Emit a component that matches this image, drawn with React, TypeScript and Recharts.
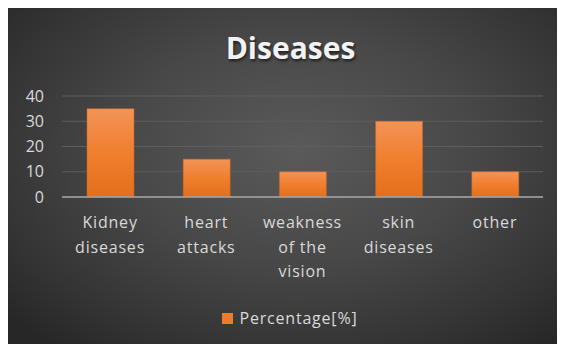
import React from "react";
import { BarChart, Bar, XAxis, YAxis, CartesianGrid, Legend } from "recharts";

const categories = ["Kidney diseases", "heart attacks", "weakness of the vision", "skin diseases", "other"];
const tickLines = [["Kidney", "diseases"], ["heart", "attacks"], ["weakness", "of the", "vision"], ["skin", "diseases"], ["other"]];
const percentage = [35, 15, 10, 30, 10];
const yTicks = [0, 10, 20, 30, 40];

const data = categories.map((name, i) => ({ name, value: percentage[i] }));

const FONT = "'Open Sans', 'Noto Sans', sans-serif";
const LABEL = "#d9d9d9";

function CategoryTick(props: any) {
  const { x, y, index } = props;
  const lines: string[] = tickLines[index] || [];
  return (
    <text x={x} y={y} textAnchor="middle" fill={LABEL} fontSize={16} fontFamily={FONT} letterSpacing={0.8} dominantBaseline="central">
      {lines.map((l, i) => (
        <tspan key={i} x={x} dy={i === 0 ? 25 : 24.5}>
          {l}
        </tspan>
      ))}
    </text>
  );
}

function LegendContent() {
  return (
    <div style={{ display: "flex", justifyContent: "center", alignItems: "center", height: 20, paddingLeft: 28 }}>
      <span style={{ width: 11, height: 11, background: "#ee7b2c", display: "inline-block", marginRight: 7 }} />
      <span style={{ color: LABEL, fontSize: 16, fontFamily: FONT, lineHeight: "20px", letterSpacing: 0.8 }}>Percentage[%]</span>
    </div>
  );
}

export default function App() {
  return (
    <div
      style={{
        position: "relative",
        width: 557,
        height: 336,
        background: "radial-gradient(ellipse 70% 75% at 52% 42%, #5a5a5a 0%, #484848 45%, #343434 80%, #272727 100%)",
        fontFamily: FONT,
      }}
    >
      <div
        style={{
          position: "absolute",
          left: 0,
          top: 20,
          width: 557,
          textAlign: "center",
          paddingLeft: 4,
          fontSize: 30,
          fontWeight: 700,
          color: "#f2f2f2",
          textShadow: "1px 2px 3px rgba(0,0,0,0.6)",
          lineHeight: "40px",
        }}
      >
        Diseases
      </div>
      <BarChart width={557} height={336} data={data} margin={{ top: 88, right: 22, left: 0, bottom: 0 }}>
        <defs>
          <linearGradient id="barFill" x1="0" y1="0" x2="0" y2="1">
            <stop offset="0%" stopColor="#f39358" />
            <stop offset="50%" stopColor="#f07f2e" />
            <stop offset="100%" stopColor="#e46e1c" />
          </linearGradient>
        </defs>
        <CartesianGrid vertical={false} stroke="#5e5e5e" strokeWidth={1} />
        <XAxis
          dataKey="name"
          height={111}
          axisLine={{ stroke: "#a6a6a6", strokeWidth: 1.5 }}
          tickLine={false}
          tickSize={0}
          tickMargin={0}
          interval={0}
          tick={<CategoryTick />}
        />
        <YAxis
          width={54}
          domain={[0, 40]}
          ticks={yTicks}
          axisLine={false}
          tickLine={false}
          tickSize={0}
          tickMargin={18}
          tick={{ fill: LABEL, fontSize: 16, fontFamily: FONT }}
        />
        <Legend verticalAlign="bottom" height={36} wrapperStyle={{ height: 36 }} content={<LegendContent />} />
        <Bar dataKey="value" name="Percentage[%]" fill="url(#barFill)" stroke="#c86320" strokeOpacity={0.5} barSize={47} isAnimationActive={false} />
      </BarChart>
    </div>
  );
}
